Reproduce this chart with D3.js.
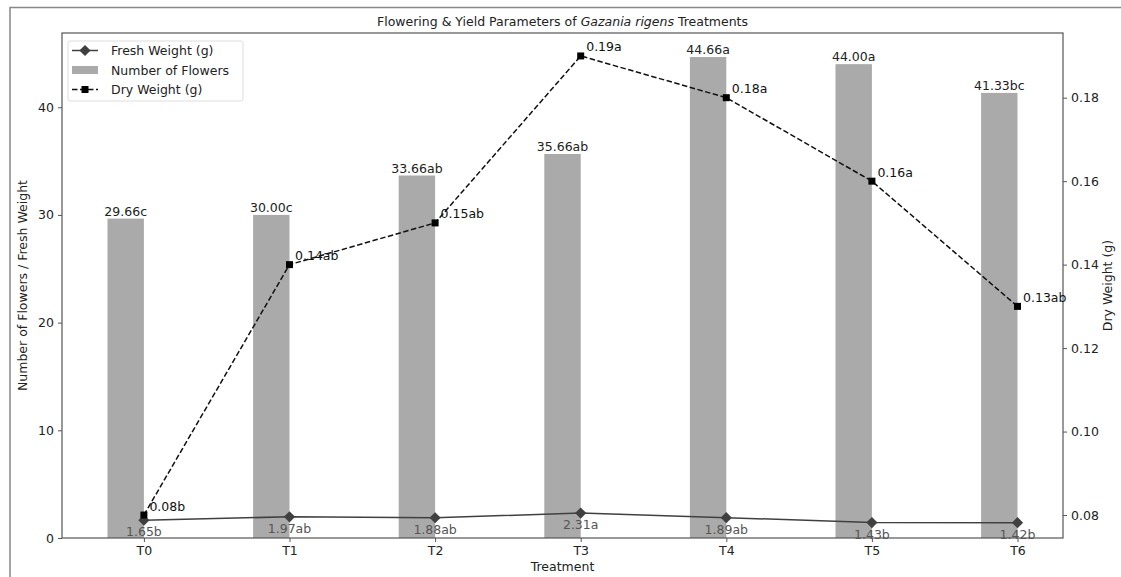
<!DOCTYPE html>
<html>
<head>
<meta charset="utf-8">
<script src="https://cdn.jsdelivr.net/npm/d3@7"></script>
<style>
  body { margin: 0; background: #fff; }
  svg { display: block; font-family: "DejaVu Sans", sans-serif; }
</style>
</head>
<body>
<svg id="chart" width="1121" height="577"></svg>
<script>
// Treatments and measured values
const treatments = ["T0", "T1", "T2", "T3", "T4", "T5", "T6"];
const flowers = [29.66, 30.00, 33.66, 35.66, 44.66, 44.00, 41.33];
const flowerLabels = ["29.66c", "30.00c", "33.66ab", "35.66ab", "44.66a", "44.00a", "41.33bc"];
const freshWeight = [1.65, 1.97, 1.88, 2.31, 1.89, 1.43, 1.42];
const freshLabels = ["1.65b", "1.97ab", "1.88ab", "2.31a", "1.89ab", "1.43b", "1.42b"];
const dryWeight = [0.08, 0.14, 0.15, 0.19, 0.18, 0.16, 0.13];
const dryLabels = ["0.08b", "0.14ab", "0.15ab", "0.19a", "0.18a", "0.16a", "0.13ab"];
const leftTicks = [0, 10, 20, 30, 40];
const rightTicks = [0.08, 0.10, 0.12, 0.14, 0.16, 0.18];

const svg = d3.select("#chart");
const m = { left: 62, right: 1063, top: 33, bottom: 538 };
const barW = 0.25;

// Figure frame
svg.append("path").attr("d", "M10,577 L10,7.5 L1121,7.5")
  .attr("fill", "none").attr("stroke", "#888").attr("stroke-width", 1.5);

const x = d3.scaleLinear().domain([-0.5625, 6.3125]).range([m.left, m.right]);
const yL = d3.scaleLinear().domain([0, 44.66 * 1.05]).range([m.bottom, m.top]);
const yR = d3.scaleLinear().domain([0.0745, 0.1955]).range([m.bottom, m.top]);

const data = treatments.map((t, i) => ({
  t, i, fl: flowers[i], flLab: flowerLabels[i],
  fw: freshWeight[i], fwLab: freshLabels[i],
  dw: dryWeight[i], dwLab: dryLabels[i]
}));

// Bars: Number of Flowers (offset left of the tick)
svg.append("g").selectAll("rect").data(data).join("rect")
  .attr("x", d => x(d.i - barW))
  .attr("width", d => x(barW) - x(0))
  .attr("y", d => yL(d.fl))
  .attr("height", d => yL(0) - yL(d.fl))
  .attr("fill", "#aaaaaa");

// Bar value labels
svg.append("g").selectAll("text").data(data).join("text")
  .attr("x", d => x(d.i - barW / 2))
  .attr("y", d => yL(d.fl) - 3)
  .attr("text-anchor", "middle")
  .attr("font-size", 12.5).attr("fill", "#222")
  .text(d => d.flLab);

// Fresh weight line (left axis)
const fwLine = d3.line().x(d => x(d.i)).y(d => yL(d.fw));
svg.append("path").datum(data).attr("d", fwLine)
  .attr("fill", "none").attr("stroke", "#404040").attr("stroke-width", 1.5);
const diamond = d3.symbol().type(d3.symbolDiamond2).size(80);
svg.append("g").selectAll("path").data(data).join("path")
  .attr("d", diamond)
  .attr("transform", d => `translate(${x(d.i)},${yL(d.fw)})`)
  .attr("fill", "#404040");
svg.append("g").selectAll("text").data(data).join("text")
  .attr("x", d => x(d.i))
  .attr("y", d => yL(d.fw) + 16)
  .attr("text-anchor", "middle")
  .attr("font-size", 12.5).attr("fill", "#555")
  .text(d => d.fwLab);

// Axes frame
svg.append("rect").attr("x", m.left).attr("y", m.top)
  .attr("width", m.right - m.left).attr("height", m.bottom - m.top)
  .attr("fill", "none").attr("stroke", "#555").attr("stroke-width", 1.2);

// Dry weight line (right axis)
const dwLine = d3.line().x(d => x(d.i)).y(d => yR(d.dw));
svg.append("path").datum(data).attr("d", dwLine)
  .attr("fill", "none").attr("stroke", "#111").attr("stroke-width", 1.5)
  .attr("stroke-dasharray", "5.5,2.5");
svg.append("g").selectAll("rect").data(data).join("rect")
  .attr("x", d => x(d.i) - 3.5).attr("y", d => yR(d.dw) - 3.5)
  .attr("width", 7).attr("height", 7).attr("fill", "#000");
svg.append("g").selectAll("text").data(data).join("text")
  .attr("x", d => x(d.i) + 5.5)
  .attr("y", d => yR(d.dw) - 4.5)
  .attr("font-size", 12.5).attr("fill", "#111")
  .text(d => d.dwLab);

// Axes
function styleAxis(g) {
  g.select(".domain").remove();
  g.selectAll(".tick line").attr("stroke", "#555");
  g.selectAll(".tick text").attr("font-size", 12.5).attr("fill", "#222")
    .attr("font-family", "DejaVu Sans, sans-serif");
}
svg.append("g").attr("transform", `translate(0,${m.bottom})`)
  .call(d3.axisBottom(x).tickValues(d3.range(treatments.length))
    .tickFormat(i => treatments[i]).tickSize(4).tickPadding(4))
  .call(styleAxis);
svg.append("g").attr("transform", `translate(${m.left},0)`)
  .call(d3.axisLeft(yL).tickValues(leftTicks).tickSize(4).tickPadding(4))
  .call(styleAxis);
svg.append("g").attr("transform", `translate(${m.right},0)`)
  .call(d3.axisRight(yR).tickValues(rightTicks).tickFormat(d3.format(".2f"))
    .tickSize(4).tickPadding(4))
  .call(styleAxis);

// Axis titles
svg.append("text").attr("x", (m.left + m.right) / 2).attr("y", 571)
  .attr("text-anchor", "middle").attr("font-size", 12.5).attr("fill", "#222")
  .text("Treatment");
svg.append("text").attr("transform", `translate(27,${(m.top + m.bottom) / 2}) rotate(-90)`)
  .attr("text-anchor", "middle").attr("font-size", 12.5).attr("fill", "#222")
  .text("Number of Flowers / Fresh Weight");
svg.append("text").attr("transform", `translate(1112,${(m.top + m.bottom) / 2}) rotate(-90)`)
  .attr("text-anchor", "middle").attr("font-size", 12.5).attr("fill", "#222")
  .text("Dry Weight (g)");

// Title
const title = svg.append("text").attr("x", (m.left + m.right) / 2).attr("y", 26)
  .attr("text-anchor", "middle").attr("font-size", 12.5).attr("fill", "#222");
title.append("tspan").text("Flowering & Yield Parameters of ");
title.append("tspan").attr("font-style", "italic").text("Gazania rigens");
title.append("tspan").text(" Treatments");

// Legend
const lg = svg.append("g").attr("transform", "translate(68,41)");
lg.append("rect").attr("width", 175).attr("height", 60).attr("rx", 2)
  .attr("fill", "#fff").attr("fill-opacity", 0.8).attr("stroke", "#ddd");
const rows = [9.5, 29, 48.5];
lg.append("line").attr("x1", 4).attr("x2", 30).attr("y1", rows[0]).attr("y2", rows[0])
  .attr("stroke", "#404040").attr("stroke-width", 1.5);
lg.append("path").attr("d", diamond).attr("transform", `translate(17,${rows[0]})`).attr("fill", "#404040");
lg.append("rect").attr("x", 4).attr("y", rows[1] - 4).attr("width", 26).attr("height", 8).attr("fill", "#aaaaaa");
lg.append("line").attr("x1", 4).attr("x2", 30).attr("y1", rows[2]).attr("y2", rows[2])
  .attr("stroke", "#111").attr("stroke-width", 1.5).attr("stroke-dasharray", "5.5,2.5");
lg.append("rect").attr("x", 13.5).attr("y", rows[2] - 3.5).attr("width", 7).attr("height", 7).attr("fill", "#000");
["Fresh Weight (g)", "Number of Flowers", "Dry Weight (g)"].forEach((t, k) => {
  lg.append("text").attr("x", 43).attr("y", rows[k] + 4.5)
    .attr("font-size", 12.5).attr("fill", "#222").text(t);
});
</script>
</body>
</html>
